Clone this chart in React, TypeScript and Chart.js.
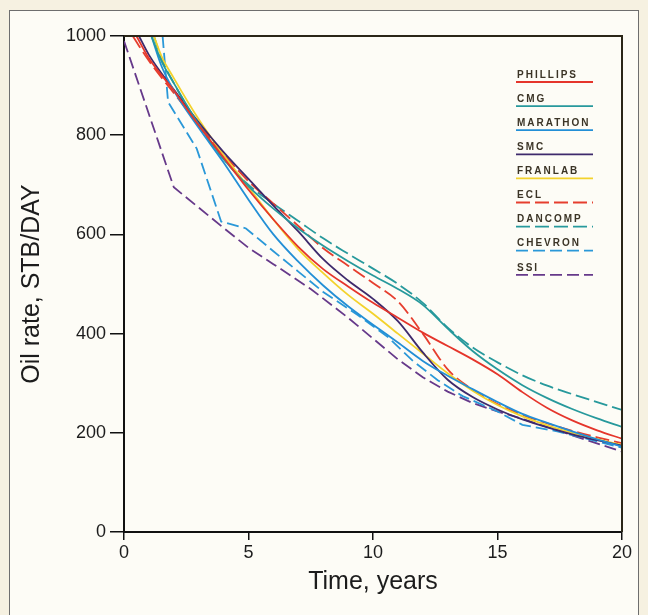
import React, { useEffect, useRef } from "react";
import { Chart, registerables } from "chart.js";
Chart.register(...registerables);

// ---- data ----
const X_TICKS = [0, 5, 10, 15, 20];
const Y_TICKS = [0, 200, 400, 600, 800, 1000];

const PHILLIPS_T = [0.5, 1, 2, 3, 4, 5, 6, 7, 8, 9, 10, 11, 12, 13, 14, 15, 16, 17, 18, 19, 20];
const PHILLIPS_V = [1000, 955, 890, 820, 755, 690, 630, 575, 530, 495, 462, 432, 402, 375, 348, 318, 282, 250, 225, 205, 188];

const CMG_T = [1.1, 1.5, 2, 3, 4, 5, 6, 7, 8, 9, 10, 11, 12, 13, 14, 15, 16, 17, 18, 19, 20];
const CMG_V = [1000, 950, 905, 822, 752, 697, 652, 612, 577, 546, 517, 490, 458, 410, 365, 328, 296, 270, 248, 229, 212];

const MARATHON_T = [1.1, 1.5, 2, 3, 4, 5, 6, 7, 8, 9, 10, 11, 12, 13, 14, 15, 16, 17, 18, 19, 20];
const MARATHON_V = [1000, 940, 890, 815, 745, 670, 600, 545, 497, 455, 418, 382, 345, 315, 288, 262, 238, 220, 203, 187, 172];

const SMC_T = [0.6, 1, 2, 3, 4, 5, 6, 7, 8, 9, 10, 11, 12, 13, 14, 15, 16, 17, 18, 19, 20];
const SMC_V = [1000, 962, 892, 826, 766, 712, 658, 606, 550, 507, 470, 425, 362, 307, 272, 247, 227, 211, 197, 185, 174];

const FRANLAB_T = [1.2, 1.5, 2, 3, 4, 5, 6, 7, 8, 9, 10, 11, 12, 13, 14, 15, 16, 17, 18, 19, 20];
const FRANLAB_V = [1000, 960, 915, 832, 760, 695, 630, 570, 522, 478, 440, 400, 360, 320, 285, 256, 233, 215, 200, 187, 175];

const ECL_T = [0.35, 1, 2, 3, 4, 5, 6, 7, 8, 9, 10, 11, 12, 13, 14, 15, 16, 17, 18, 19, 20];
const ECL_V = [1000, 950, 885, 822, 762, 707, 662, 617, 572, 537, 502, 465, 400, 328, 287, 258, 236, 219, 204, 191, 179];

const DANCOMP_T = [1.2, 1.5, 2, 3, 4, 5, 6, 7, 8, 9, 10, 11, 12, 13, 14, 15, 16, 17, 18, 19, 20];
const DANCOMP_V = [1000, 955, 905, 820, 752, 700, 662, 627, 592, 561, 531, 500, 462, 412, 372, 342, 316, 295, 278, 262, 246];

const CHEVRON_T = [1.55, 1.77, 2.92, 3.9, 4.9, 6, 7, 8, 9.4, 10.6, 11.6, 12.6, 13.6, 15, 16, 17.4, 20];
const CHEVRON_V = [1000, 867, 773, 626, 612, 566, 525, 484, 437, 393, 345, 306, 274, 243, 216, 203, 170];

const SSI_T = [0, 2, 4, 5, 6, 7.5, 9, 10, 11, 12, 13, 14, 15, 16, 17, 18, 20];
const SSI_V = [990, 695, 613, 573, 540, 490, 432, 390, 348, 312, 283, 260, 243, 228, 212, 195, 162];

const toPts = (t: number[], v: number[]) => t.map((x, i) => ({ x, y: v[i] }));

const FONT = "'Liberation Sans', Arial, sans-serif";

const legendPlugin = {
  id: "customLegend",
  afterDatasetsDraw(chart: any) {
    const { ctx, chartArea } = chart;
    const x0 = chartArea.right - 106;
    const x1 = chartArea.right - 29;
    ctx.save();
    chart.data.datasets.forEach((ds: any, i: number) => {
      const ty = chartArea.top + 39 + i * 24.1;
      const ly = chartArea.top + 46 + i * 24.1;
      ctx.font = `bold 10px ${FONT}`;
      (ctx as any).letterSpacing = "2px";
      ctx.fillStyle = "#3b3426";
      ctx.textAlign = "left";
      ctx.textBaseline = "middle";
      ctx.fillText(ds.label, x0 + 1, ty);
      (ctx as any).letterSpacing = "0px";
      ctx.beginPath();
      ctx.setLineDash(ds.borderDash || []);
      ctx.strokeStyle = ds.borderColor;
      ctx.lineWidth = 1.8;
      ctx.moveTo(x0, ly);
      ctx.lineTo(x1, ly);
      ctx.stroke();
    });
    ctx.restore();
  },
};

const boxPlugin = {
  id: "box",
  afterDraw(chart: any) {
    const { ctx, chartArea } = chart;
    ctx.save();
    ctx.setLineDash([]);
    ctx.strokeStyle = "#2a2618";
    ctx.lineWidth = 2;
    ctx.beginPath();
    ctx.moveTo(chartArea.left, chartArea.top);
    ctx.lineTo(chartArea.right, chartArea.top);
    ctx.lineTo(chartArea.right, chartArea.bottom);
    ctx.stroke();
    ctx.restore();
  },
};

export default function App() {
  const ref = useRef<HTMLCanvasElement | null>(null);
  useEffect(() => {
    if (!ref.current) return;
    const mk = (label: string, t: number[], v: number[], color: string, dash: number[] | null, smooth: boolean) => ({
      label,
      data: toPts(t, v),
      borderColor: color,
      backgroundColor: color,
      borderWidth: 1.8,
      borderDash: dash || [],
      pointRadius: 0,
      fill: false,
      tension: smooth ? 0.4 : 0,
      cubicInterpolationMode: smooth ? "monotone" : "default",
    });
    const chart = new Chart(ref.current, {
      type: "line",
      data: {
        datasets: [
          mk("PHILLIPS", PHILLIPS_T, PHILLIPS_V, "#e5352b", null, true),
          mk("CMG", CMG_T, CMG_V, "#27999c", null, true),
          mk("MARATHON", MARATHON_T, MARATHON_V, "#238fd6", null, true),
          mk("SMC", SMC_T, SMC_V, "#3e2a6c", null, true),
          mk("FRANLAB", FRANLAB_T, FRANLAB_V, "#f3d22c", null, true),
          mk("ECL", ECL_T, ECL_V, "#e63e2e", [14, 5], true),
          mk("DANCOMP", DANCOMP_T, DANCOMP_V, "#27999c", [14, 5], true),
          mk("CHEVRON", CHEVRON_T, CHEVRON_V, "#2a98d8", [12, 5], false),
          mk("SSI", SSI_T, SSI_V, "#66398a", [12, 5], false),
        ] as any,
      },
      options: {
        animation: false,
        responsive: false,
        devicePixelRatio: 1,
        layout: { padding: { left: 0, top: 36, right: 26, bottom: 0 } },
        plugins: { legend: { display: false }, tooltip: { enabled: false } },
        scales: {
          x: {
            type: "linear",
            min: 0,
            max: 20,
            afterFit(s: any) { s.height = 83; },
            afterBuildTicks(s: any) { s.ticks = X_TICKS.map((v) => ({ value: v })); },
            border: { display: true, color: "#111", width: 2 },
            grid: { display: true, drawOnChartArea: false, drawTicks: true, tickLength: 8, color: "#111", lineWidth: 1.5 },
            ticks: { color: "#1c1c1c", font: { family: FONT, size: 18 }, padding: 2, maxRotation: 0, callback: (v: any) => String(v) },
            title: { display: true, text: "Time, years", color: "#1c1c1c", font: { family: FONT, size: 25 }, padding: { top: 0, bottom: 18 } },
          },
          y: {
            type: "linear",
            min: 0,
            max: 1000,
            afterFit(s: any) { s.width = 124; },
            afterBuildTicks(s: any) { s.ticks = Y_TICKS.map((v) => ({ value: v })); },
            border: { display: true, color: "#111", width: 2 },
            grid: { display: true, drawOnChartArea: false, drawTicks: true, tickLength: 14, color: "#111", lineWidth: 1.5 },
            ticks: { color: "#1c1c1c", font: { family: FONT, size: 18 }, padding: 4, callback: (v: any) => String(v) },
            title: { display: true, text: "Oil rate, STB/DAY", color: "#1c1c1c", font: { family: FONT, size: 25 }, padding: { top: 17, bottom: 0 } },
          },
        },
      } as any,
      plugins: [legendPlugin, boxPlugin],
    });
    return () => chart.destroy();
  }, []);

  return (
    <div style={{ position: "fixed", left: 0, top: 0, width: 648, height: 615, background: "#f6f1e1", overflow: "hidden" }}>
      <div style={{ position: "absolute", left: 9, top: 10, width: 628, height: 620, border: "1.5px solid #6e6e6e", background: "#fdfcf6" }} />
      <canvas ref={ref} width={648} height={615} style={{ position: "absolute", left: 0, top: 0, width: 648, height: 615 }} />
    </div>
  );
}
